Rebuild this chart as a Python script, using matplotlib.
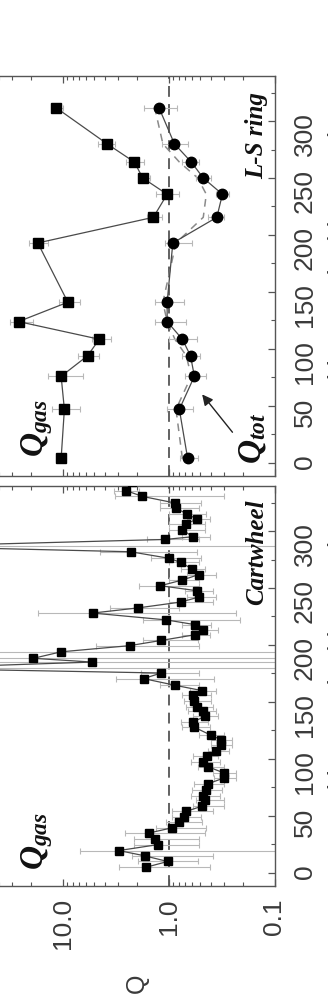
import numpy as np
import matplotlib
matplotlib.use('Agg')
import matplotlib.pyplot as plt
from matplotlib.ticker import LogLocator, MultipleLocator, FixedFormatter, NullFormatter

plt.rcParams['font.family'] = ['Liberation Sans', 'DejaVu Sans']
plt.rcParams['mathtext.fontset'] = 'custom'
plt.rcParams['mathtext.it'] = 'Liberation Serif:italic:bold'
plt.rcParams['mathtext.rm'] = 'Liberation Serif:bold'

# ── Cartwheel: position (deg), Q_gas, lower / upper end of error bar ─────────
cw_pos = [5.0, 10.0, 15.0, 19.6, 24.8, 29.8, 35.0, 39.5, 44.4, 49.0, 54.0, 58.5,
          64.0, 67.7, 73.0, 78.3, 83.3, 87.7, 93.0, 97.0, 103.0, 107.0, 112.5,
          117.0, 120.7, 127.8, 132.5, 137.4, 141.8, 146.0, 150.5, 155.8, 160.0,
          164.6, 170.5, 175.4, 179.5, 185.0, 188.3, 194.0, 199.4, 204.0, 209.0,
          213.4, 217.8, 222.0, 228.0, 232.5, 237.7, 242.0, 247.6, 252.0, 257.0,
          261.7, 266.8, 272.5, 276.0, 281.8, 286.5, 292.6, 295.0, 301.0, 306.0,
          310.5, 315.0, 320.0, 324.6, 330.4, 335.4, 343.0]
cw_q = [1.62, 1.02, 1.68, 2.94, 1.26, 1.33, 1.53, 0.93, 0.80, 0.72, 0.68, 0.485,
        0.45, 0.47, 0.44, 0.42, 0.30, 0.30, 0.42, 0.47, 0.43, 0.355, 0.32,
        0.32, 0.395, 0.57, 0.59, 0.45, 0.47, 0.54, 0.58, 0.59, 0.485,
        0.865, 1.72, 1.17, 300.0, 5.25, 18.8, 10.3, 2.33, 1.17, 0.56,
        0.47, 0.56, 1.05, 5.2, 1.95, 0.76, 0.52, 0.54, 1.19, 0.74,
        0.52, 0.60, 0.77, 0.98, 2.28, 300.0, 1.07, 0.59, 0.74, 0.69,
        0.54, 0.67, 0.85, 0.87, 1.77, 2.5, 2.2]
cw_lo = [0.41, 0.53, 0.38, 0.01, 0.51, 0.51, 0.45, 0.44, 0.48, 0.49, 0.38, 0.30,
         0.30, 0.33, 0.31, 0.30, 0.23, 0.23, 0.30, 0.33, 0.34, 0.27, 0.25,
         0.25, 0.30, 0.41, 0.42, 0.34, 0.36, 0.38, 0.40, 0.40, 0.36,
         0.51, 0.37, 0.52, 0.001, 0.001, 0.001, 0.001, 0.51, 0.53, 0.41,
         0.34, 0.40, 0.21, 0.23, 0.79, 0.38, 0.36, 0.38, 0.51, 0.51,
         0.36, 0.45, 0.51, 0.49, 0.54, 0.001, 0.51, 0.41, 0.45, 0.45,
         0.41, 0.44, 0.51, 0.49, 0.30, 1.9, 1.6]
cw_hi = [2.9, 1.95, 2.2, 6.9, 2.1, 2.1, 2.6, 1.3, 1.05, 0.92, 0.92, 0.59,
         0.55, 0.62, 0.60, 0.58, 0.37, 0.38, 0.53, 0.62, 0.59, 0.42, 0.40,
         0.40, 0.51, 0.75, 0.77, 0.59, 0.65, 0.68, 0.72, 0.74, 0.63,
         1.2, 3.1, 1.8, 1000.0, 1000.0, 1000.0, 1000.0, 4.8, 1.75, 0.75,
         0.60, 0.75, 1.75, 17.0, 3.6, 1.0, 0.67, 0.70, 1.9, 0.98,
         0.67, 0.76, 0.98, 1.45, 4.4, 1000.0, 1.6, 0.75, 0.98, 0.98,
         0.67, 0.98, 1.2, 1.2, 3.2, 3.3, 3.0]

# ── L-S ring ─────────────────────────────────────────────────────────────────
ls_pos = [4, 47, 76, 94, 108.5, 124, 141, 193, 215.5, 235.7, 250, 264, 280, 311.7]
ls_gas = [10.3, 9.6, 10.3, 5.8, 4.5, 26.0, 8.9, 17.1, 1.39, 1.03, 1.75, 2.1, 3.8, 11.5]
ls_gas_lo = [9.2, 6.9, 6.4, 4.5, 3.5, 19.0, 6.9, 13.8, 1.14, 0.79, 1.5, 1.7, 3.2, 10.0]
ls_gas_hi = [11.4, 12.6, 13.8, 7.2, 5.3, 31.0, 10.7, 20.5, 1.6, 1.3, 1.95, 2.5, 4.6, 12.6]
ls_tot = [0.66, 0.79, 0.57, 0.62, 0.74, 1.03, 1.03, 0.91, 0.35, 0.31, 0.47, 0.61, 0.88, 1.23]
ls_tot_lo = [0.53, 0.59, 0.44, 0.50, 0.54, 0.69, 0.72, 0.60, 0.30, 0.27, 0.40, 0.52, 0.66, 0.84]
ls_tot_hi = [0.78, 1.03, 0.70, 0.75, 0.98, 1.35, 1.35, 1.08, 0.42, 0.36, 0.55, 0.74, 1.14, 1.70]
ls_model = [0.74, 0.85, 0.61, 0.68, 0.87, 1.03, 1.13, 0.85, 0.47, 0.44, 0.53, 0.79, 1.13, 1.35]

q_ticks = [0.1, 1.0, 10.0]
q_ticklabels = ['0.1', '1.0', '10.0']

W, H = 328, 1003
fig = plt.figure(figsize=(W / 100, H / 100), dpi=100)
fig.patch.set_facecolor('white')

C_AX = '#555555'
C_TXT = '#3a3a3a'
C_ERR = '#b8b8b8'
C_LINE = '#4a4a4a'


def make_ax(bottom_px, top_px, show_q):
    left_px, right_px = -43.5, 274.5
    ax = fig.add_axes([left_px / W, 1 - bottom_px / H,
                       (right_px - left_px) / W, (bottom_px - top_px) / H])
    ax.set_xscale('log')
    ax.set_xlim(100, 0.1)
    ax.set_ylim(-11.5, 339.5)
    for s in ax.spines.values():
        s.set_color(C_AX)
        s.set_linewidth(1.0)
    ax.xaxis.set_major_locator(LogLocator(base=10, numticks=10))
    ax.xaxis.set_minor_locator(LogLocator(base=10, subs=np.arange(2, 10), numticks=20))
    ax.xaxis.set_minor_formatter(NullFormatter())
    ax.set_xticks(q_ticks)
    if show_q:
        ax.set_xticklabels(q_ticklabels)
    else:
        ax.set_xticklabels([])
    ax.yaxis.set_major_locator(MultipleLocator(50))
    ax.yaxis.set_minor_locator(MultipleLocator(25))
    ax.tick_params(axis='both', which='both', direction='in', colors=C_AX,
                   top=True, bottom=True, left=True, right=True)
    ax.tick_params(which='major', length=5, width=0.9)
    ax.tick_params(which='minor', length=3, width=0.8)
    ax.tick_params(axis='x', labelrotation=90, pad=8, labelsize=19, labelcolor=C_TXT)
    ax.tick_params(axis='y', labelleft=False, labelright=True, labelrotation=90,
                   pad=13, labelsize=19, labelcolor=C_TXT)
    ax.yaxis.set_label_position('right')
    ax.set_ylabel('Position angle (degrees)', fontsize=20, color=C_TXT,
                  rotation=90, labelpad=8)
    ax.axvline(1.0, color=C_AX, lw=1.3, ls=(0, (6, 4)), zorder=1)
    return ax


def errs(q, lo, hi):
    q = np.array(q)
    return [q - np.array(lo), np.array(hi) - q]


# Cartwheel panel (bottom)
ax1 = make_ax(887, 487, True)
ax1.errorbar(cw_q, cw_pos, xerr=errs(cw_q, cw_lo, cw_hi), fmt='none',
             ecolor=C_ERR, elinewidth=0.8, capsize=2.2, capthick=0.8, zorder=2)
ax1.plot(cw_q, cw_pos, '-', color=C_LINE, lw=0.9, zorder=3)
ax1.plot(cw_q, cw_pos, 's', color='black', ms=5.2, zorder=4)
ax1.text(0.253, 0.115, r'$Q_{gas}$', transform=ax1.transAxes, rotation=90,
         fontsize=24, ha='center', va='center', color='#111111')
ax1.text(0.945, 0.8375, 'Cartwheel', transform=ax1.transAxes, rotation=90,
         fontsize=18, ha='center', va='center', color='#111111',
         family='Liberation Serif', fontweight='bold', style='italic')

# L-S ring panel (top)
ax2 = make_ax(477, 77, False)
ax2.plot(ls_model, ls_pos, color='#8a8a8a', lw=1.1, ls=(0, (5, 4)), zorder=2)
ax2.errorbar(ls_gas, ls_pos, xerr=errs(ls_gas, ls_gas_lo, ls_gas_hi), fmt='none',
             ecolor=C_ERR, elinewidth=0.8, capsize=2.5, capthick=0.8, zorder=2)
ax2.errorbar(ls_tot, ls_pos, xerr=errs(ls_tot, ls_tot_lo, ls_tot_hi), fmt='none',
             ecolor=C_ERR, elinewidth=0.8, capsize=2.5, capthick=0.8, zorder=2)
ax2.plot(ls_gas, ls_pos, '-', color=C_LINE, lw=0.9, zorder=3)
ax2.plot(ls_gas, ls_pos, 's', color='black', ms=7.5, zorder=4)
ax2.plot(ls_tot, ls_pos, '-', color=C_LINE, lw=0.9, zorder=3)
ax2.plot(ls_tot, ls_pos, 'o', color='black', ms=7.5, zorder=4)
ax2.text(0.253, 0.1225, r'$Q_{gas}$', transform=ax2.transAxes, rotation=90,
         fontsize=24, ha='center', va='center', color='#111111')
ax2.text(0.932, 0.0975, r'$Q_{tot}$', transform=ax2.transAxes, rotation=90,
         fontsize=24, ha='center', va='center', color='#111111')
ax2.annotate('', xy=(0.5, 62), xytext=(0.24, 25),
             arrowprops=dict(arrowstyle='-|>', color='#222222', lw=1.0,
                             mutation_scale=16), zorder=5)
ax2.text(0.945, 0.8525, 'L-S ring', transform=ax2.transAxes, rotation=90,
         fontsize=18, ha='center', va='center', color='#111111',
         family='Liberation Serif', fontweight='bold', style='italic')

fig.text(137 / W, 1 - 983 / H, 'Q', rotation=90, fontsize=18, color=C_TXT,
         ha='center', va='center')

fig.savefig('out.png', dpi=100, facecolor='white')
